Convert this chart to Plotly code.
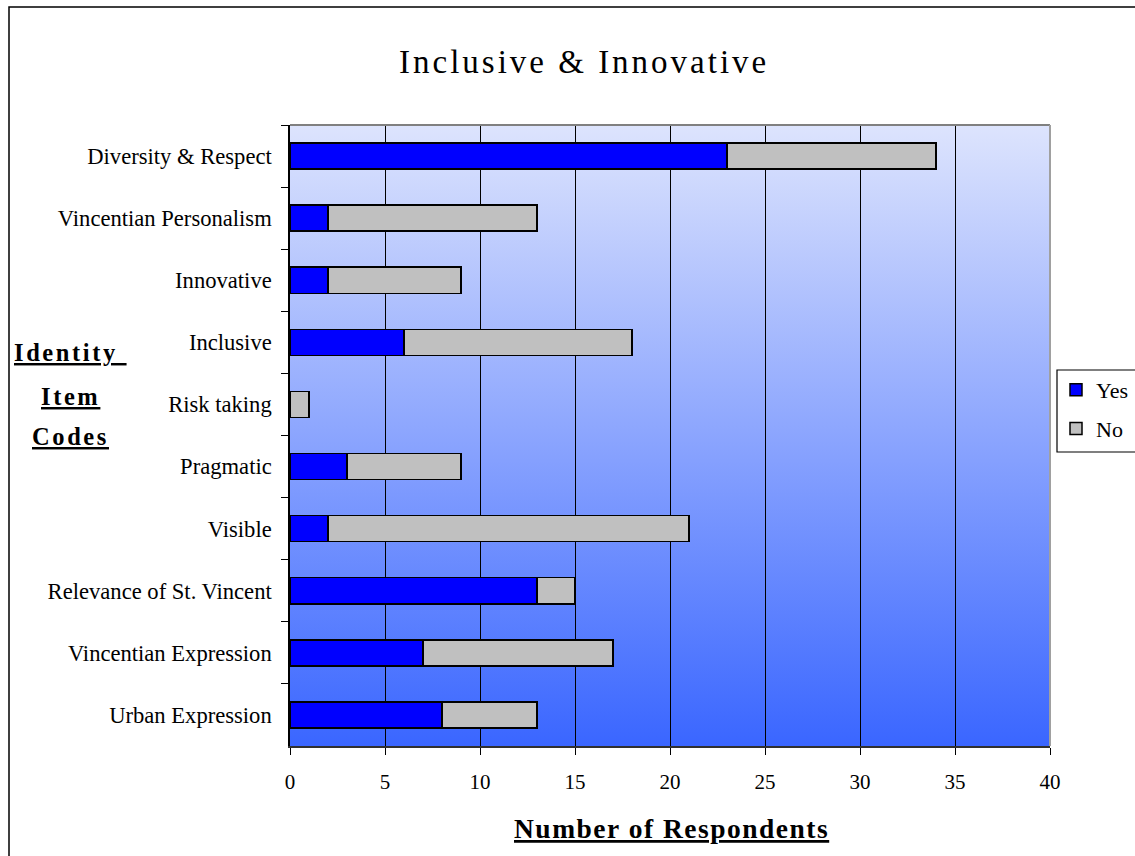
import base64
import plotly.graph_objects as go

# Survey responses per identity item
categories = [
    "Diversity & Respect",
    "Vincentian Personalism",
    "Innovative",
    "Inclusive",
    "Risk taking",
    "Pragmatic",
    "Visible",
    "Relevance of St. Vincent",
    "Vincentian Expression",
    "Urban Expression",
]
yes_counts = [23, 2, 2, 6, 0, 3, 2, 13, 7, 8]
no_counts = [11, 11, 7, 12, 1, 6, 19, 2, 10, 5]
x_ticks = [0, 5, 10, 15, 20, 25, 30, 35, 40]

W, H = 1135, 856
L, R, T, B = 290, 1050, 125, 746
FONT = "Liberation Serif"


def px(x):
    return (x - L) / (R - L)


def py(y):
    return (B - y) / (B - T)


def spaced(text, spacing):
    return f'<span style="letter-spacing:{spacing}px">{text}</span>'


fig = go.Figure()
fig.add_trace(go.Bar(
    y=categories, x=yes_counts, orientation="h", name="Yes",
    legendgroup="yes",
    marker=dict(color="#0000ff", line=dict(color="#000000", width=1.5)),
))
fig.add_trace(go.Bar(
    y=categories, x=no_counts, orientation="h", name="No",
    legendgroup="no",
    marker=dict(color="#c0c0c0", line=dict(color="#000000", width=1.5)),
))

# vertical gradient behind the plot area
svg = (
    '<svg xmlns="http://www.w3.org/2000/svg" width="100" height="100" preserveAspectRatio="none">'
    '<defs><linearGradient id="g" x1="0" y1="0" x2="0" y2="1">'
    '<stop offset="0" stop-color="#dde4fd"/><stop offset="1" stop-color="#3a66ff"/>'
    '</linearGradient></defs><rect width="100" height="100" fill="url(#g)"/></svg>'
)
bg_uri = "data:image/svg+xml;base64," + base64.b64encode(svg.encode()).decode()

fig.update_layout(
    width=W, height=H,
    margin=dict(l=L, r=W - R, t=T, b=H - B, pad=0, autoexpand=False),
    paper_bgcolor="white",
    plot_bgcolor="rgba(0,0,0,0)",
    barmode="stack",
    bargap=0.58,
    font=dict(family=FONT, size=22, color="black"),
    showlegend=True,
    legend=dict(
        x=px(1056), y=py(369), xanchor="left", yanchor="top",
        xref="paper", yref="paper",
        bgcolor="rgba(0,0,0,0)", borderwidth=0,
        traceorder="grouped", tracegroupgap=7,
        font=dict(family=FONT, size=22, color="black"),
    ),
    images=[dict(
        source=bg_uri, xref="paper", yref="paper", x=0, y=1,
        sizex=1, sizey=1, sizing="stretch", xanchor="left", yanchor="top",
        layer="below",
    )],
    xaxis=dict(
        range=[0, 40], tickvals=x_ticks, ticktext=[str(v) for v in x_ticks],
        showgrid=True, gridcolor="#000000", gridwidth=1, zeroline=False,
        showline=True, linecolor="#303030", linewidth=1.5,
        ticks="outside", ticklen=7, tickcolor="#000000", tickwidth=1,
        ticklabelstandoff=9,
        tickfont=dict(family=FONT, size=21, color="black"),
        fixedrange=True,
    ),
    yaxis=dict(
        type="category", categoryorder="array", categoryarray=categories,
        autorange="reversed",
        showgrid=False, zeroline=False,
        showline=True, linecolor="#000000", linewidth=1.5,
        ticks="outside", tickson="boundaries", ticklen=7,
        tickcolor="#000000", tickwidth=1,
        ticklabelstandoff=12,
        tickfont=dict(family=FONT, size=22.6, color="black"),
        fixedrange=True,
    ),
)

shapes = [
    # top and right edges of the plot area
    dict(type="line", xref="paper", yref="paper", x0=0, x1=1, y0=1, y1=1,
         line=dict(color="#808080", width=2)),
    dict(type="line", xref="paper", yref="paper", x0=1, x1=1, y0=0, y1=1,
         line=dict(color="#a0a0a0", width=2)),
    # chart border
    dict(type="rect", xref="paper", yref="paper",
         x0=px(9), x1=px(1150), y0=py(880), y1=py(7),
         line=dict(color="#000000", width=1.5), fillcolor="rgba(0,0,0,0)"),
    # legend frame
    dict(type="rect", xref="paper", yref="paper",
         x0=px(1057), x1=px(1150), y0=py(452), y1=py(370),
         line=dict(color="#000000", width=1.2), fillcolor="rgba(0,0,0,0)"),
]
fig.update_layout(shapes=shapes)

annotations = [
    dict(text=spaced("Inclusive & Innovative", 3), x=px(584), y=py(62),
         xref="paper", yref="paper", showarrow=False,
         xanchor="center", yanchor="middle",
         font=dict(family=FONT, size=33, color="black")),
    dict(text="<b>" + spaced("Number of Respondents", 1.5) + "</b>",
         x=px(671), y=py(828), xref="paper", yref="paper", showarrow=False,
         xanchor="center", yanchor="middle",
         font=dict(family=FONT, size=27.5, color="black", lineposition="under")),
]
for word, ycen in [("Identity\u00a0", 352), ("Item", 397), ("Codes", 436)]:
    annotations.append(dict(
        text="<b>" + spaced(word, 2.6) + "</b>",
        x=px(70), y=py(ycen), xref="paper", yref="paper", showarrow=False,
        xanchor="center", yanchor="middle",
        font=dict(family=FONT, size=24.5, color="black", lineposition="under"),
    ))
fig.update_layout(annotations=annotations)

fig.write_html("out.html")
